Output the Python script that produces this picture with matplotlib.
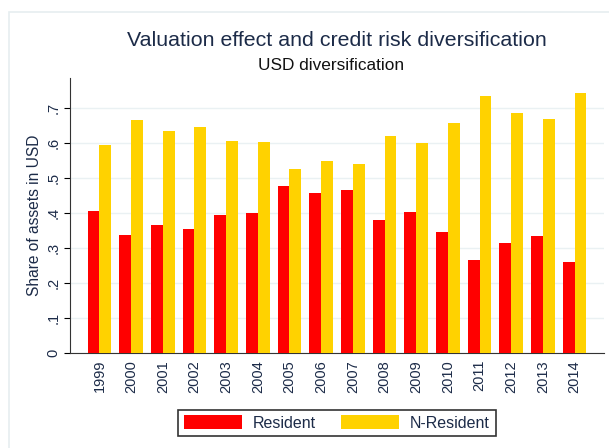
import numpy as np
import matplotlib
matplotlib.use("Agg")
import matplotlib.pyplot as plt
from matplotlib.patches import Rectangle

# Data
years = ["1999", "2000", "2001", "2002", "2003", "2004", "2005", "2006",
         "2007", "2008", "2009", "2010", "2011", "2012", "2013", "2014"]
resident = [0.407, 0.337, 0.366, 0.354, 0.395, 0.399, 0.477, 0.458,
            0.466, 0.380, 0.403, 0.347, 0.266, 0.314, 0.333, 0.259]
non_resident = [0.594, 0.666, 0.635, 0.647, 0.606, 0.602, 0.525, 0.548,
                0.539, 0.620, 0.599, 0.657, 0.735, 0.687, 0.669, 0.743]
yticks = [0, 0.1, 0.2, 0.3, 0.4, 0.5, 0.6, 0.7]
ytick_labels = ["0", ".1", ".2", ".3", ".4", ".5", ".6", ".7"]

TEXT = "#1c2b48"
plt.rcParams["font.family"] = ["Liberation Sans", "DejaVu Sans"]

W, H = 609, 448
fig = plt.figure(figsize=(W / 100, H / 100), dpi=100)
fig.patch.set_facecolor("white")

# faint graph-region frame (Stata style)
fig.add_artist(Rectangle((9 / W, -0.1), 1.0, 1 - 12 / H + 0.1, transform=fig.transFigure,
                         fill=False, edgecolor="#e6eef0", lw=1.2))

ax = fig.add_axes([70 / W, 1 - 353 / H, (604 - 70) / W, (353 - 78) / H])
x = np.arange(len(years))
bw = 0.37
ax.bar(x - bw / 2, resident, width=bw, color="#ff0000", label="Resident", zorder=3)
ax.bar(x + bw / 2, non_resident, width=bw, color="#ffd200", label="N-Resident", zorder=3)

ax.set_xlim(-0.93, len(years) - 1 + 0.93)
ax.set_ylim(0, 275 / 350)
ax.set_yticks(yticks)
ax.set_yticklabels(ytick_labels, rotation=90, va="center", fontsize=10.5, color=TEXT)
ax.set_xticks(x)
ax.set_xticklabels(years, rotation=90, fontsize=10.5, color=TEXT)
ax.tick_params(axis="x", length=0, pad=5)
ax.tick_params(axis="y", length=4, width=0.8, pad=3)
ax.grid(axis="y", color="#eaf1f3", lw=1, zorder=0)

for side in ["top", "right"]:
    ax.spines[side].set_visible(False)
ax.spines["left"].set_color("#333333")
ax.spines["bottom"].set_color("#333333")
ax.set_ylabel("Share of assets in USD", fontsize=11.2, color=TEXT, labelpad=3)

fig.text(337 / W, 1 - 41 / H, "Valuation effect and credit risk diversification",
         ha="center", va="center", fontsize=15.4, color=TEXT)
fig.text(331 / W, 1 - 66 / H, "USD diversification",
         ha="center", va="center", fontsize=12.4, color="#111111")

leg = fig.legend(loc="center", bbox_to_anchor=(337 / W, 1 - 423 / H), ncol=2,
                 frameon=True, fancybox=False, fontsize=11.5,
                 handlelength=3.6, handleheight=1.0, columnspacing=1.6,
                 borderpad=0.35, handletextpad=0.7)
leg.get_frame().set_edgecolor("black")
leg.get_frame().set_linewidth(1.2)
for t in leg.get_texts():
    t.set_color(TEXT)

fig.savefig("out.png", dpi=100)
